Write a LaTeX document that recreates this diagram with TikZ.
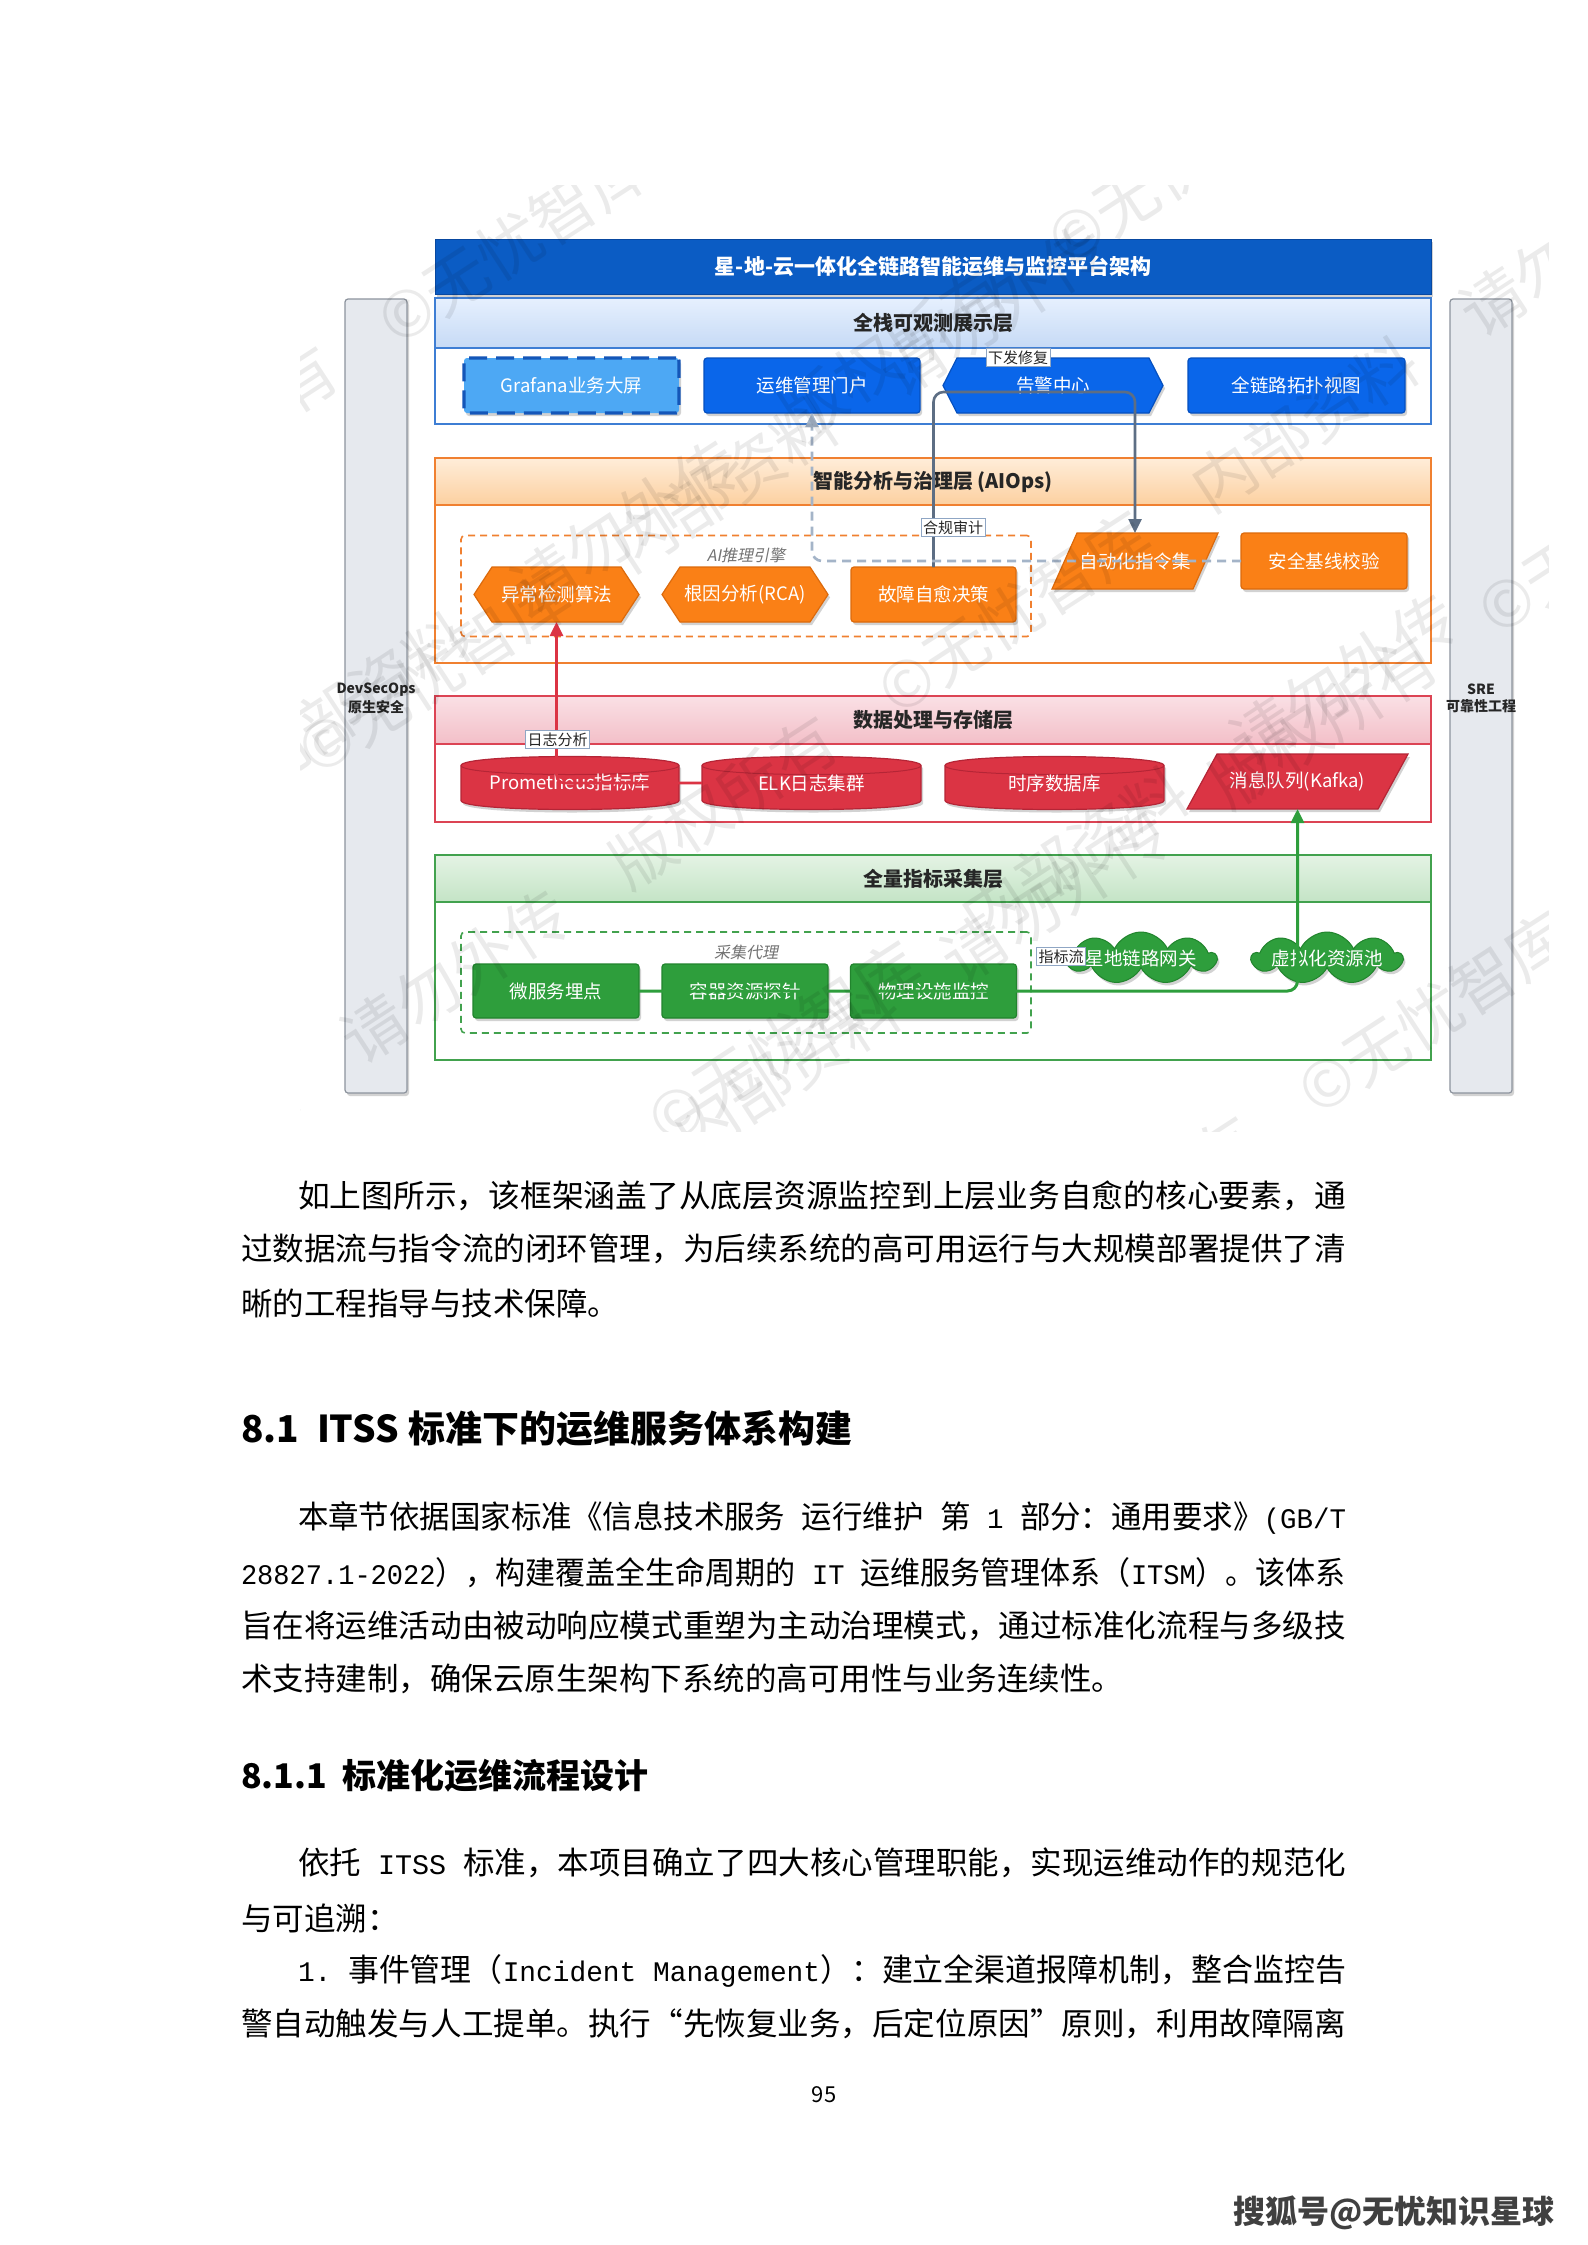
\documentclass[tikz,border=0pt]{standalone}
\usepackage{graphicx}
\usepackage{fontspec}
\setmainfont{Noto Sans CJK SC}
\newfontfamily\latmono{Liberation Mono}[Scale=0.9]
\newfontfamily\slfont{Noto Sans CJK SC}[FakeSlant=0.2]
\usetikzlibrary{shapes.symbols,shadows,arrows.meta,calc}
\pgfdeclarelayer{back}
\pgfdeclarelayer{shapelayer}
\pgfsetlayers{back,shapelayer,main}
\newcommand\myfs[1]{\fontsize{#1}{#1}\selectfont}
\newcommand\jline[2]{\resizebox{#1}{\height}{#2}}

\definecolor{cTitle}{HTML}{0B5CC4}
\definecolor{cTitleD}{HTML}{0848A0}
\definecolor{cBlueL}{HTML}{3E7ED4}
\definecolor{cBlueHt}{HTML}{E6F0FE}
\definecolor{cBlueHb}{HTML}{C6DAF5}
\definecolor{cBox}{HTML}{0A66EA}
\definecolor{cBoxD}{HTML}{0550C0}
\definecolor{cGraf}{HTML}{4DA8F4}
\definecolor{cGrafD}{HTML}{1456B8}
\definecolor{cOrL}{HTML}{F08030}
\definecolor{cOrHt}{HTML}{FFEDD9}
\definecolor{cOrHb}{HTML}{FCD0A0}
\definecolor{cOr}{HTML}{FA8016}
\definecolor{cOrD}{HTML}{DC6A0C}
\definecolor{cRedL}{HTML}{DC4454}
\definecolor{cRedHt}{HTML}{FAE0E5}
\definecolor{cRedHb}{HTML}{F3BFC8}
\definecolor{cRed}{HTML}{DB3444}
\definecolor{cRedD}{HTML}{B52536}
\definecolor{cGrL}{HTML}{42A24E}
\definecolor{cGrHt}{HTML}{E4F3E4}
\definecolor{cGrHb}{HTML}{C4E4C6}
\definecolor{cGr}{HTML}{2E9E3C}
\definecolor{cGrD}{HTML}{21842D}
\definecolor{cSide}{HTML}{E6E9EE}
\definecolor{cSideD}{HTML}{8C939D}
\definecolor{cGray}{HTML}{5D6E84}
\definecolor{cDash}{HTML}{A4B4C8}
\definecolor{cLbl}{HTML}{8FA6C4}

\newcommand\hexpath[3]{\filldraw[#3] ([xshift=#2]#1.north west) -- ([xshift=-#2]#1.north east) -- (#1.east) -- ([xshift=-#2]#1.south east) -- ([xshift=#2]#1.south west) -- (#1.west) -- cycle;}
\newcommand\parapath[3]{\filldraw[#3] ([xshift=#2]#1.north west) -- (#1.north east) -- ([xshift=-#2]#1.south east) -- (#1.south west) -- cycle;}
\newcommand\cylpath[2]{%
  \filldraw[fill=cRed, draw=cRedD, line width=1.2pt, #2] ([yshift=-9pt]#1.north west) -- ([yshift=9pt]#1.south west) .. controls ([yshift=-3pt]#1.south west) and ([yshift=-3pt]#1.south east) .. ([yshift=9pt]#1.south east) -- ([yshift=-9pt]#1.north east) .. controls ([yshift=3pt]#1.north east) and ([yshift=3pt]#1.north west) .. ([yshift=-9pt]#1.north west) -- cycle;
  \draw[draw=cRedD, line width=1pt] ([yshift=-9pt]#1.north west) .. controls ([yshift=-21pt]#1.north west) and ([yshift=-21pt]#1.north east) .. ([yshift=-9pt]#1.north east);}

\begin{document}
\begin{tikzpicture}[x=1pt,y=-1pt,
  every node/.style={inner sep=0pt, outer sep=0pt},
  sh/.style={drop shadow={shadow xshift=2pt, shadow yshift=-3pt, opacity=0.25, fill=black!70}},
  wtxt/.style={text=white, font=\myfs{18.5}},
  rbox/.style={wtxt, rectangle, rounded corners=3pt, line width=1.2pt, minimum height=55pt, sh},
  ghost/.style={wtxt, rectangle, minimum height=55pt},
  cont/.style={draw, line width=1.6pt, minimum width=996pt},
  hdr/.style={draw, line width=1.6pt, minimum width=996pt, font=\bfseries\myfs{20}, text=black!85},
  grp/.style={draw, line width=1.6pt, dash pattern=on 7pt off 5pt, rounded corners=4pt, minimum width=570pt, minimum height=101pt},
  grplbl/.style={font=\slfont\myfs{16}, text=black!55},
  elabel/.style={fill=white, draw=cLbl, line width=0.8pt, inner sep=2pt, font=\myfs{15}, text=black!85},
  arrtip/.style={-{Triangle[length=14pt,width=13pt]}},
  gline/.style={arrtip, draw=cGray, line width=2.6pt, rounded corners=10pt},
  dline/.style={arrtip, draw=cDash, line width=2.6pt, dash pattern=on 9pt off 6pt, rounded corners=10pt},
  rline/.style={arrtip, draw=cRed, line width=2.6pt, rounded corners=8pt},
  grline/.style={arrtip, draw=cGr, line width=3pt, rounded corners=10pt},
  cloudst/.style={wtxt, shape=cloud, cloud puffs=9, cloud puff arc=130, cloud ignores aspect, minimum width=150pt, minimum height=52pt, fill=cGr, draw=cGrD, line width=1pt, sh},
  sidebar/.style={fill=cSide, draw=cSideD, line width=1.2pt, rounded corners=3pt, minimum width=62pt, minimum height=794pt, sh},
  sidetxt/.style={font=\bfseries\myfs{14}, align=center, text=black!85},
  body/.style={anchor=west, font=\myfs{31.5}, text=black},
  wm/.style={font=\myfs{64}, text=black, text opacity=0.08, rotate=33}
]
\useasboundingbox (0,0) rectangle (1587,2245);
\begin{pgfonlayer}{back}
\fill[white] (0,0) rectangle (1587,2245);
\end{pgfonlayer}

% ---------- side bars ----------
\node[sidebar] (devsec) at (376,696) {};
\node[sidetxt] (devsecT) at (376,698) {DevSecOps\\[3pt]原生安全};
\node[sidebar] (sre) at (1481,696) {};
\node[sidetxt] (sreT) at (1481,698) {SRE\\[3pt]可靠性工程};

% ---------- title ----------
\node[fill=cTitle, draw=cTitleD, line width=1pt, minimum width=996pt, minimum height=55pt, text=white, font=\bfseries\myfs{21}, sh] (title) at (933,266.5) {星-地-云一体化全链路智能运维与监控平台架构};

% ---------- layer containers ----------
\begin{pgfonlayer}{back}
\node[cont, draw=cBlueL, minimum height=126pt] (L1) at (933,361) {};
\node[hdr, draw=cBlueL, top color=cBlueHt, bottom color=cBlueHb, minimum height=50pt] (L1h) at (933,323) {全栈可观测展示层};
\node[cont, draw=cOrL, minimum height=205pt] (L2) at (933,560.5) {};
\node[hdr, draw=cOrL, top color=cOrHt, bottom color=cOrHb, minimum height=47pt] (L2h) at (933,481.5) {智能分析与治理层 (AIOps)};
\node[cont, draw=cRedL, minimum height=126pt] (L3) at (933,759) {};
\node[hdr, draw=cRedL, top color=cRedHt, bottom color=cRedHb, minimum height=48pt] (L3h) at (933,720) {数据处理与存储层};
\node[cont, draw=cGrL, minimum height=205pt] (L4) at (933,957.5) {};
\node[hdr, draw=cGrL, top color=cGrHt, bottom color=cGrHb, minimum height=47pt] (L4h) at (933,878.5) {全量指标采集层};
\node[grp, draw=cOrL] (gAI) at (746,586) {};
\node[grp, draw=cGrL] (gAgent) at (746,982.5) {};
\end{pgfonlayer}
\node[grplbl] (gAIl) at (746,555) {AI推理引擎};
\node[grplbl] (gAgentl) at (746,952) {采集代理};

% ---------- layer 1 ----------
\node[rbox, fill=cGraf, draw=cGrafD, line width=3.4pt, dash pattern=on 18pt off 9pt, minimum width=215pt] (graf) at (571.5,385.5) {Grafana业务大屏};
\node[rbox, fill=cBox, draw=cBoxD, minimum width=216pt] (portal) at (812,385.5) {运维管理门户};
\node[ghost, minimum width=220pt] (alert) at (1053,385.5) {告警中心};
\node[rbox, fill=cBox, draw=cBoxD, minimum width=217pt] (topo) at (1296.5,385.5) {全链路拓扑视图};

% ---------- layer 2 ----------
\node[ghost, minimum width=165pt] (anom) at (556.5,594.5) {异常检测算法};
\node[ghost, minimum width=166pt] (rca) at (745,594.5) {根因分析(RCA)};
\node[rbox, fill=cOr, draw=cOrD, minimum width=165pt] (heal) at (933.5,594.5) {故障自愈决策};
\node[ghost, minimum width=166pt, minimum height=56pt] (auto) at (1135,561) {自动化指令集};
\node[rbox, fill=cOr, draw=cOrD, minimum width=166pt, minimum height=56pt] (safe) at (1324,561) {安全基线校验};

% ---------- layer 3 ----------
\node[ghost, minimum width=218pt, minimum height=53pt] (prom) at (570,783) {Prometheus指标库};
\node[ghost, minimum width=219pt, minimum height=53pt] (elk) at (811.5,783) {ELK日志集群};
\node[ghost, minimum width=219pt, minimum height=53pt] (tsdb) at (1054.5,783) {时序数据库};
\node[ghost, minimum width=221pt, minimum height=55pt] (kafka) at (1297.5,781.5) {消息队列(Kafka)};

% ---------- layer 4 ----------
\node[rbox, fill=cGr, draw=cGrD, minimum width=166pt, minimum height=54pt] (micro) at (556,991) {微服务埋点};
\node[rbox, fill=cGr, draw=cGrD, minimum width=166pt, minimum height=54pt] (contn) at (745,991) {容器资源探针};
\node[rbox, fill=cGr, draw=cGrD, minimum width=166pt, minimum height=54pt] (phys) at (933.5,991) {物理设施监控};
\node[cloudst] (gw) at (1141,958) {\makebox[0pt]{星地链路网关}};
\node[cloudst] (vpool) at (1327,958) {\makebox[0pt]{虚拟化资源池}};

% ---------- custom shapes ----------
\begin{pgfonlayer}{shapelayer}
\hexpath{alert}{14pt}{fill=cBox, draw=cBoxD, line width=1.2pt, sh}
\hexpath{anom}{18pt}{fill=cOr, draw=cOrD, line width=1.2pt, sh}
\hexpath{rca}{18pt}{fill=cOr, draw=cOrD, line width=1.2pt, sh}
\parapath{auto}{25pt}{fill=cOr, draw=cOrD, line width=1.2pt, sh}
\parapath{kafka}{30pt}{fill=cRed, draw=cRedD, line width=1.2pt, sh}
\cylpath{prom}{sh}
\cylpath{elk}{sh}
\cylpath{tsdb}{sh}
\end{pgfonlayer}

% ---------- connectors ----------
\coordinate (gtop) at (933,392);
\draw[gline] (heal.north) -- (heal.north |- gtop) -| (auto.north);
\draw[dline] (safe.west) -| (portal.south);
\draw[rline] (elk.west) -| (anom.south);
\draw[grline] (micro.east) -| (kafka.south);

\node[elabel] (lbAudit) at (953,527.5) {合规审计};
\node[elabel] (lbFix) at (1018,357.5) {下发修复};
\node[elabel] (lbLog) at (557.5,739.5) {日志分析};
\node[elabel] (lbFlow) at (1061,956.5) {指标流};

% ---------- watermark ----------
\begin{scope}
\clip (300,186) rectangle (1548,1131);
\foreach \p [count=\i] in {(380,330),(1050,250),(300,760),(880,700),(1480,620),(650,1130),(1300,1100)}
  \node[wm] (wm\i) at \p {内部资料\quad 请勿外传\quad 版权所有\quad ©无忧智库\quad 内部资料\quad 请勿外传};
\end{scope}

% ---------- body text ----------
\node[body] (p1a) at (298,1196) {\jline{1048pt}{如上图所示，该框架涵盖了从底层资源监控到上层业务自愈的核心要素，通}};
\node[body] (p1b) at (241,1249) {\jline{1105pt}{过数据流与指令流的闭环管理，为后续系统的高可用运行与大规模部署提供了清}};
\node[body] (p1c) at (241,1303) {晰的工程指导与技术保障。};

\node[anchor=west, font=\bfseries\myfs{37}] (h1) at (241,1429) {8.1\hspace{18pt}ITSS\hspace{9pt}标准下的运维服务体系构建};

\node[body] (p2a) at (298,1518) {\jline{1048pt}{本章节依据国家标准《信息技术服务{\latmono\ }运行维护{\latmono\ }第{\latmono\ 1\ }部分：通用要求》{\latmono (GB/T}}};
\node[body] (p2b) at (241,1573) {\jline{1105pt}{{\latmono 28827.1-2022}），构建覆盖全生命周期的{\latmono\ IT\ }运维服务管理体系（{\latmono ITSM}）。该体系}};
\node[body] (p2c) at (241,1626) {\jline{1105pt}{旨在将运维活动由被动响应模式重塑为主动治理模式，通过标准化流程与多级技}};
\node[body] (p2d) at (241,1679) {术支持建制，确保云原生架构下系统的高可用性与业务连续性。};

\node[anchor=west, font=\bfseries\myfs{34}] (h2) at (241,1776) {8.1.1\hspace{16pt}标准化运维流程设计};

\node[body] (p3a) at (298,1863) {\jline{1048pt}{依托{\latmono\ ITSS\ }标准，本项目确立了四大核心管理职能，实现运维动作的规范化}};
\node[body] (p3b) at (241,1918) {与可追溯：};
\node[body] (p3c) at (298,1971) {\jline{1048pt}{{\latmono 1.\ }事件管理（{\latmono Incident Management}）：建立全渠道报障机制，整合监控告}};
\node[body] (p3d) at (241,2024) {\jline{1105pt}{警自动触发与人工提单。执行“先恢复业务，后定位原因”原则，利用故障隔离}};

\node[font=\myfs{22}] (pg) at (824,2095) {95};
\node[font=\bfseries\myfs{32}, text=black!75] (sohu) at (1394,2213) {搜狐号@无忧知识星球};
\end{tikzpicture}
\end{document}
